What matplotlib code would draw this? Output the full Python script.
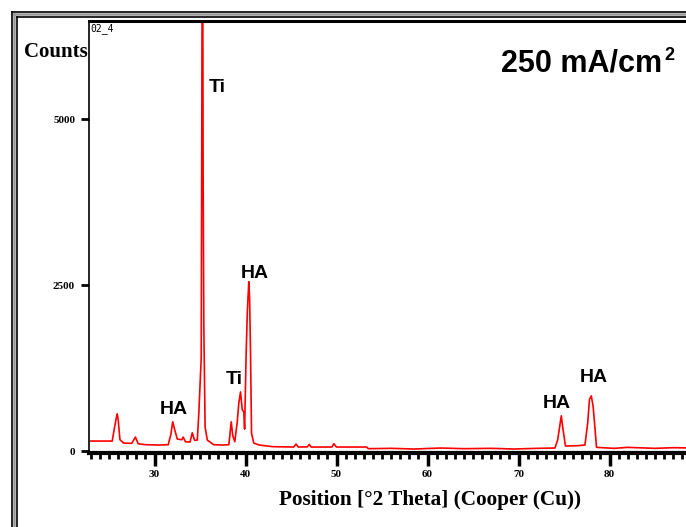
import matplotlib.pyplot as plt
from matplotlib.lines import Line2D
from matplotlib.ticker import MultipleLocator
import numpy as np

# XRD scan (2theta in degrees, counts)
two_theta = [23.0, 25.35, 25.6, 25.8, 25.9, 26.0, 26.2, 26.6, 27.5, 27.9, 28.2,
             29.0, 30.5, 31.5, 31.8, 32.0, 32.2, 32.5, 33.0, 33.15, 33.4, 33.9,
             34.15, 34.4, 34.7, 34.87, 35.13, 35.2, 35.27, 35.34, 35.42, 35.56,
             35.8, 36.5, 37.5, 38.17, 38.43, 38.6, 38.82, 39.1, 39.26, 39.45,
             39.64, 39.81, 39.9, 40.07, 40.2, 40.36, 40.45, 40.55, 40.66, 40.9,
             41.5, 43.0, 45.3, 45.55, 45.8, 46.8, 47.0, 47.2, 49.5, 49.7, 50.0,
             53.3, 53.5, 56.0, 58.5, 61.5, 64.0, 67.0, 69.5, 72.0, 74.0, 74.3,
             74.7, 74.87, 75.16, 76.5, 77.3, 77.6, 77.8, 78.0, 78.2, 78.4, 78.57,
             80.5, 82.0, 85.0, 87.0, 89.5]
counts = [150, 150, 350, 500, 560, 480, 170, 120, 115, 210, 110,
          95, 90, 95, 250, 440, 330, 180, 170, 210, 140, 135,
          275, 160, 165, 570, 1400, 5100, 9500, 4200, 1850, 360,
          165, 95, 90, 95, 440, 230, 140, 450, 720, 890,
          620, 590, 330, 1475, 2100, 2550, 2300, 1475, 270, 120,
          90, 65, 60, 105, 60, 62, 100, 60, 60, 110, 60,
          60, 35, 40, 30, 45, 35, 40, 30, 40, 45, 165,
          530, 345, 75, 80, 90, 420, 780, 830, 670, 345, 55,
          40, 55, 40, 50, 45]

x_ticks = [30, 40, 50, 60, 70, 80]
y_ticks = [0, 2500, 5000]

W, H = 686, 527
fig = plt.figure(figsize=(W / 100, H / 100), dpi=100)

# axes placed in pixels: left spine x=89, top y=21, bottom y=453
left_px, top_px, bot_px = 89, 21, 453
right_px = W * 1.01
ax = fig.add_axes([left_px / W, 1 - bot_px / H, (right_px - left_px) / W,
                   (bot_px - top_px) / H])

px_per_deg = 9.1
x0 = 22.8
ax.set_xlim(x0, x0 + (right_px - left_px) / px_per_deg)
ax.set_ylim(-30, (451 - top_px) / 166 * 2500)

ax.plot(two_theta, counts, color='red', lw=1.2)

ax.spines['left'].set_linewidth(1.2)
ax.spines['top'].set_linewidth(2.2)
ax.spines['bottom'].set_linewidth(3)
ax.spines['right'].set_visible(False)

ax.set_xticks(x_ticks)
ax.xaxis.set_minor_locator(MultipleLocator(1))
ax.set_yticks(y_ticks)
ax.tick_params(axis='x', which='major', length=9, width=2.5, direction='out',
               labelsize=8, pad=3)
ax.tick_params(axis='x', which='minor', length=4, width=2, direction='out')
ax.tick_params(axis='y', which='major', length=6, width=2, direction='out',
               labelsize=8, pad=4)
for lab in ax.get_xticklabels() + ax.get_yticklabels():
    lab.set_fontfamily('Liberation Serif')
    lab.set_fontweight('bold')

ax.set_xlabel('Position [°2 Theta] (Cooper (Cu))', family='Liberation Serif',
              fontweight='bold', fontsize=15.3)
ax.xaxis.set_label_coords((430 - left_px) / (right_px - left_px), -0.085)

fig.text(24 / W, 1 - 52 / H, 'Counts', family='Liberation Serif',
         fontweight='bold', fontsize=15, va='center', ha='left')
ax.text(0.003, 0.995, '02_4', transform=ax.transAxes, fontsize=7,
        family='DejaVu Sans Mono', va='top', ha='left')

# peak labels
labels = [('Ti', 217, 87), ('HA', 255, 273), ('Ti', 234, 380),
          ('HA', 174, 409), ('HA', 557, 404), ('HA', 594, 377)]
for txt, px, py in labels:
    fig.text(px / W, 1 - py / H, txt, family='Liberation Sans',
             fontweight='bold', fontsize=14, ha='center', va='center')

fig.text(662 / W, 1 - 64 / H, '250 mA/cm', family='Liberation Sans',
         fontweight='bold', fontsize=22, ha='right', va='center')
fig.text(664 / W, 1 - 55 / H, '2', family='Liberation Sans',
         fontweight='bold', fontsize=13, ha='left', va='center')

# outer double frame
for off, col, lw in [(12, 'black', 1.2), (14.3, '#999999', 1.8), (16.5, 'black', 1.2)]:
    fig.add_artist(Line2D([off / W, off / W], [0, 1 - off / H], color=col, lw=lw,
                          transform=fig.transFigure))
    fig.add_artist(Line2D([off / W, 1], [1 - off / H, 1 - off / H], color=col, lw=lw,
                          transform=fig.transFigure))

fig.savefig('out.png', dpi=100)
